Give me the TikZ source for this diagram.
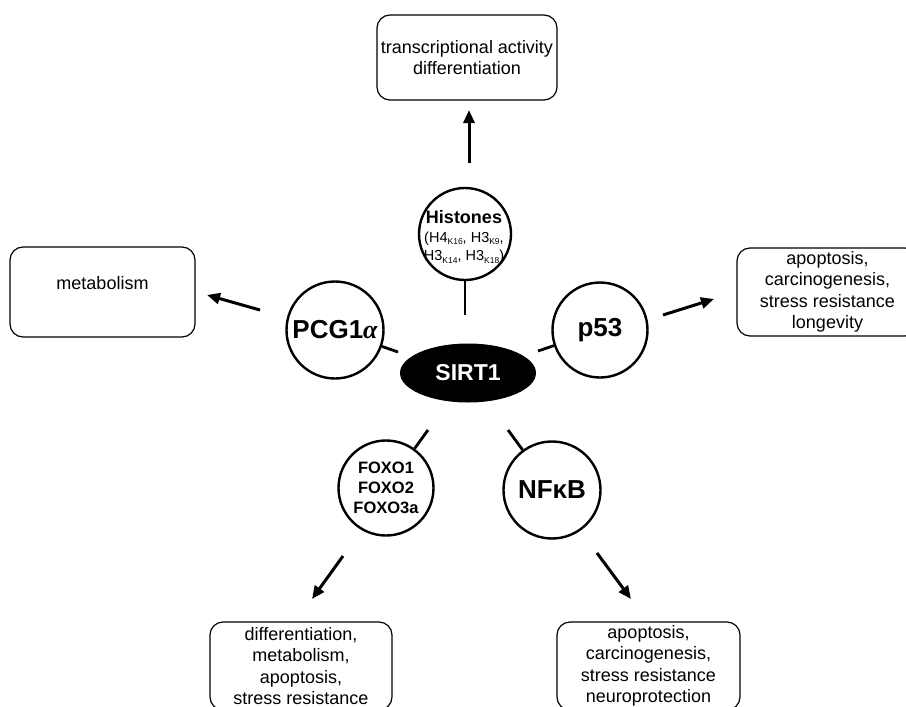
\documentclass[tikz,border=0pt]{standalone}
\usepackage{fontspec}
\setmainfont{Liberation Sans}
\newfontfamily\serifgreek{Liberation Serif}
\usetikzlibrary{arrows.meta,shapes.geometric}
\newcommand\sbx[1]{\raisebox{-0.35ex}{\fontsize{8.5}{9}\selectfont #1}}
\begin{document}
\begin{tikzpicture}[x=1pt,y=-1pt,
  circ/.style={circle,draw,line width=2.4pt,inner sep=0pt},
  box/.style={draw,rounded corners=13pt,line width=1.2pt,align=center,inner sep=0pt,
              font=\fontsize{18}{21.5}\selectfont},
  boxtext/.style={align=center,inner sep=0pt,font=\fontsize{18}{21.5}\selectfont},
  conn/.style={line width=2.8pt},
  arr/.style={line width=3pt,-{Triangle[length=13pt,width=11pt]}},
  big/.style={font=\fontsize{26}{30}\selectfont\bfseries}]
\clip (0,0) rectangle (906,707);
\fill[white] (0,0) rectangle (906,707);

% outcome boxes
\node[box,minimum width=180pt,minimum height=85pt] (topbox) at (467,57.5)
  {transcriptional activity\\differentiation};
\node[box,minimum width=185pt,minimum height=90pt] (metabbox) at (102.5,292) {};
\node[boxtext] (metabtxt) at (102.5,283) {metabolism};
\node[box,minimum width=181pt,minimum height=88pt] (p53box) at (827.5,292)
  {apoptosis,\\carcinogenesis,\\stress resistance\\longevity};
\node[box,minimum width=182pt,minimum height=88pt] (foxobox) at (301,666)
  {differentiation,\\metabolism,\\apoptosis,\\stress resistance};
\node[box,minimum width=183pt,minimum height=88pt] (nfbox) at (648.5,666)
  {apoptosis,\\carcinogenesis,\\stress resistance\\neuroprotection};

% central node
\node[ellipse,fill=black,minimum width=136pt,minimum height=59pt,inner sep=0pt,
      text=white,font=\fontsize{23}{26}\selectfont\bfseries] (sirt) at (468,373) {SIRT1};

% substrate circles
\node[circ,minimum size=92pt] (hist) at (465,234) {};
\node[align=center,inner sep=0pt,font=\fontsize{14.5}{18.5}\selectfont] (histtxt) at (464,237)
  {{\fontsize{18}{18}\selectfont\bfseries Histones}\\
   (H4\sbx{K16}, H3\sbx{K9},\\
   H3\sbx{K14}, H3\sbx{K18})};
\node[circ,minimum size=97pt,big] (pcg) at (335,330) {PCG1{\serifgreek\itshape α}};
\node[circ,minimum size=95pt,big] (p53) at (600,330) {p53};
\node[circ,minimum size=95pt,align=center,font=\fontsize{16.5}{20}\selectfont\bfseries] (foxo) at (386,488)
  {FOXO1\\FOXO2\\FOXO3a};
\node[circ,minimum size=97pt,big] (nfkb) at (552,490) {NFκB};

% free ends of the connectors
\coordinate (hEnd) at (465,315);
\coordinate (pEnd) at (398,352);
\coordinate (qEnd) at (538,351);
\coordinate (fEnd) at (428,430);
\coordinate (nEnd) at (508,430);

\draw[conn] (hist) -- (hEnd);
\draw[conn] (pcg) -- (pEnd);
\draw[conn] (p53) -- (qEnd);
\draw[conn] (foxo) -- (fEnd);
\draw[conn] (nfkb) -- (nEnd);

% arrows
\coordinate (a1s) at (469,163); \coordinate (a1e) at (469,110);
\coordinate (a2s) at (260,310); \coordinate (a2e) at (207,295);
\coordinate (a3s) at (663,315); \coordinate (a3e) at (714,299);
\coordinate (a4s) at (343,556); \coordinate (a4e) at (312,599);
\coordinate (a5s) at (597,553); \coordinate (a5e) at (631,599);
\draw[arr] (a1s) -- (a1e);
\draw[arr] (a2s) -- (a2e);
\draw[arr] (a3s) -- (a3e);
\draw[arr] (a4s) -- (a4e);
\draw[arr] (a5s) -- (a5e);
\end{tikzpicture}
\end{document}
